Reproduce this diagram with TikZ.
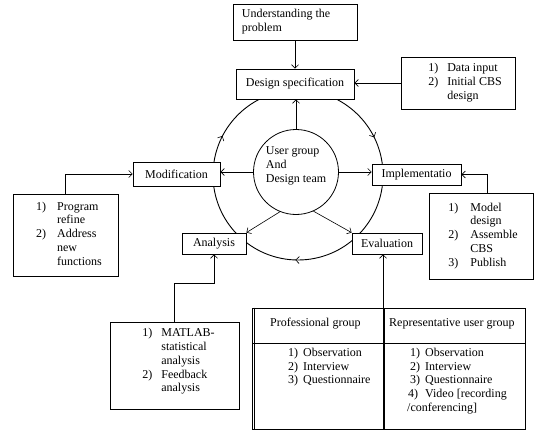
\documentclass[tikz,border=0pt]{standalone}
\usepackage{fontspec}
\setmainfont{Liberation Serif}
\usetikzlibrary{arrows.meta,decorations.markings,calc}
\newcommand\myfs{\fontsize{12}{13.8}\selectfont}
\begin{document}
\begin{tikzpicture}[x=1pt,y=1pt,
  box/.style={draw,line width=0.8pt,fill=white,inner sep=0pt,font=\myfs},
  arr/.style={-{Straight Barb[length=3.5pt,width=7pt]},line width=0.6pt},
  ring/.style={line width=0.9pt,postaction={decorate},decoration={markings,
    mark=at position 0.073 with {\arrowreversed[line width=0.6pt]{Straight Barb[length=3.5pt,width=7pt]}},
    mark=at position 0.424 with {\arrowreversed[line width=0.6pt]{Straight Barb[length=3.5pt,width=7pt]}},
    mark=at position 0.745 with {\arrowreversed[line width=0.6pt]{Straight Barb[length=3.5pt,width=7pt]}}}},
  lbl/.style={inner sep=0pt,font=\myfs}]
\useasboundingbox (0,0) rectangle (535,-433);

% outer cycle
\draw[ring] (298,-175) circle[radius=85pt];

% boxes
\node[box,minimum width=124pt,minimum height=36pt] (und) at (295,-22)
  {\begin{tabular}{@{}l@{}}Understanding the\\problem\end{tabular}\hspace*{18pt}};
\node[box,minimum width=118pt,minimum height=30pt] (design) at (295,-84) {Design specification};
\node[box,minimum width=114pt,minimum height=52pt] (data) at (458,-83)
  {\hspace*{14pt}\begin{tabular}{@{}p{19pt}@{}l@{}}1)&Data input\\2)&Initial CBS\\&design\end{tabular}};
\node[box,minimum width=87pt,minimum height=24pt] (mod) at (176.5,-174) {Modification};
\node[box,minimum width=89pt,minimum height=21pt] (impl) at (416.5,-174.5) {Implementatio};
\node[box,minimum width=104pt,minimum height=86pt] (model) at (481,-236)
  {\hspace*{4pt}\begin{tabular}{@{}p{22pt}@{}l@{}}1)&Model\\&design\\2)&Assemble\\&CBS\\3)&Publish\end{tabular}};
\node[box,minimum width=70pt,minimum height=21pt] (eval) at (387,-243.5) {Evaluation};
\node[box,minimum width=64pt,minimum height=21pt] (ana) at (214,-243.5) {Analysis};
\node[box,minimum width=105pt,minimum height=82pt] (prog) at (65.5,-235)
  {\hspace*{7pt}\begin{tabular}{@{}p{21pt}@{}l@{}}1)&Program\\&refine\\2)&Address\\&new\\&functions\end{tabular}};
\node[box,minimum width=129pt,minimum height=87pt,text height=37.5pt,text depth=39.5pt] (matlab) at (174.5,-365.5)
  {\hspace*{8pt}\begin{tabular}{@{}p{19pt}@{}l@{}}1)&MATLAB-\\&statistical\\&analysis\\2)&Feedback\\&analysis\end{tabular}};
\node[draw,circle,line width=0.8pt,fill=white,minimum size=85pt,inner sep=0pt,font=\myfs] (user) at (296,-172)
  {\raisebox{3pt}[0pt][0pt]{\begin{tabular}{@{}l@{}}User group\\And\\Design team\end{tabular}}};

% table
\node[box,minimum width=273pt,minimum height=121pt] (tbl) at (388.5,-368.5) {};
\draw[line width=0.8pt] ([xshift=3pt]tbl.north west) -- ([xshift=3pt]tbl.south west);
\coordinate (dv) at (384,-308);
\draw[line width=1.2pt] (dv) -- (dv |- tbl.south);
\coordinate (hl) at (252,-343);
\draw[line width=0.8pt] (hl) -- (hl -| tbl.east);
\node[lbl,anchor=north west] (th1) at (270,-318) {Professional group};
\node[lbl,anchor=north west] (th2) at (389,-318) {Representative user group};
\node[lbl,anchor=north west] (tc1) at (288,-346.5)
  {\begin{tabular}{@{}p{15pt}@{}l@{}}1)&Observation\\2)&Interview\\3)&Questionnaire\end{tabular}};
\node[lbl,anchor=north west] (tc2) at (407,-346.5)
  {\begin{tabular}{@{}l@{}}\hspace*{3pt}\makebox[15pt][l]{1)}Observation\\
   \hspace*{3pt}\makebox[15pt][l]{2)}Interview\\
   \hspace*{3pt}\makebox[15pt][l]{3)}Questionnaire\\
   \hspace*{1pt}\makebox[17pt][l]{4)}Video [recording\\
   /conferencing]\end{tabular}};

% connectors
\draw[arr] (und) -- (design);
\draw[arr] (data.west) -- (data.west -| design.east);
\draw[arr] (user.north) -- (user.north |- design.south);
\draw[arr] (user.west) -- (user.west -| mod.east);
\draw[arr] (user.east) -- (user.east -| impl.west);
\draw[arr] (user.248) -- (ana.north east);
\draw[arr] (user.294) -- (eval.north west);
\draw[arr] (prog.north) |- (mod.west);
\draw[arr] ([xshift=6pt]model.north) |- (impl.east);
\draw[arr] (matlab.north) -- ++(0,38) -| (ana.south);
\coordinate (ev) at (383,-308);
\draw[arr] (ev) -- (ev |- eval.south);
\end{tikzpicture}
\end{document}
